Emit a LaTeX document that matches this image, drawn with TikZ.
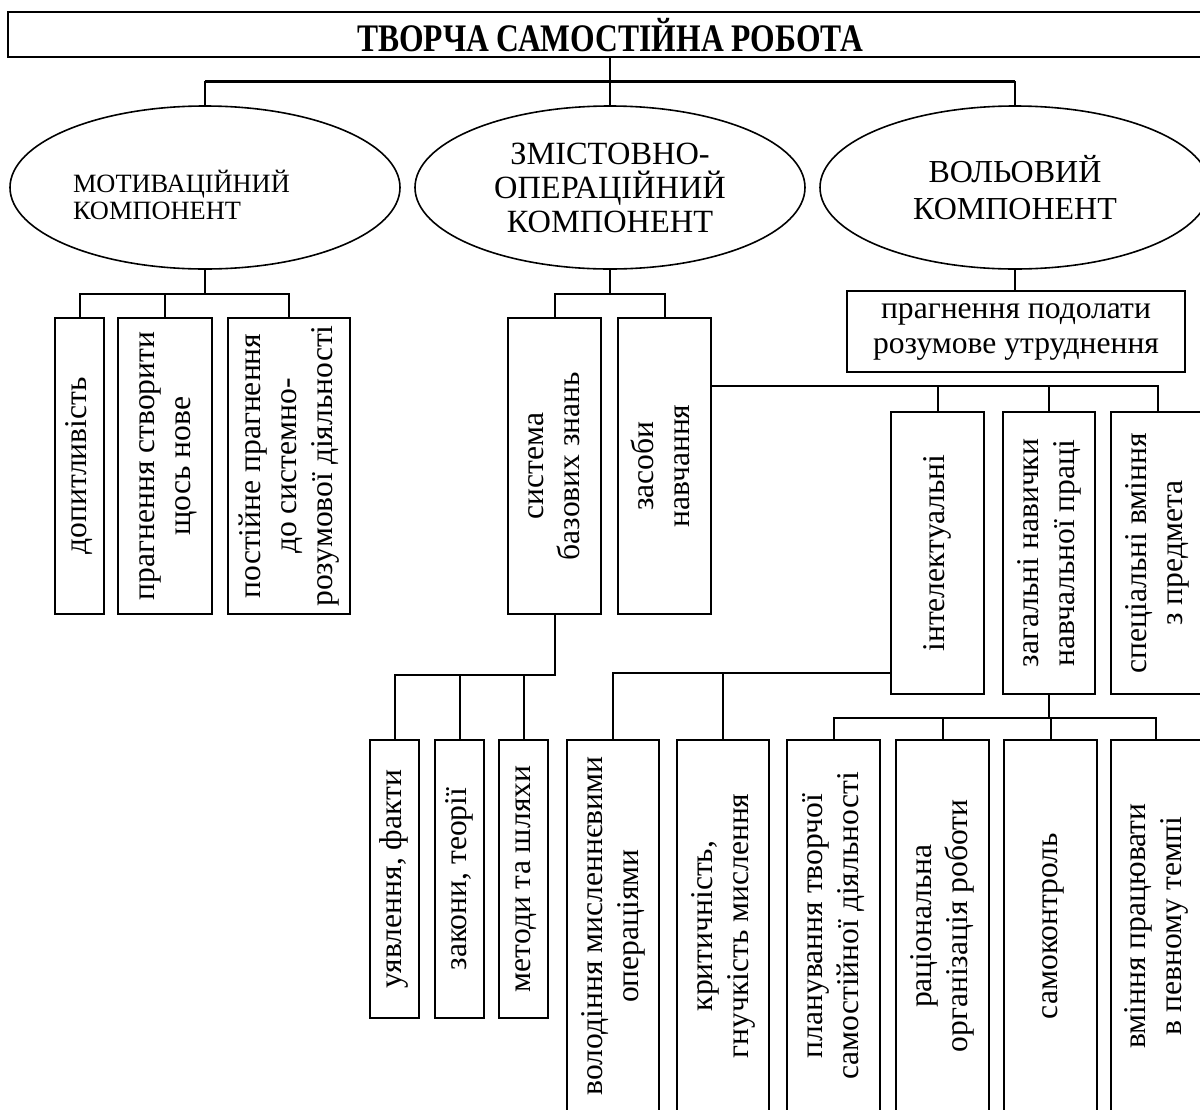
\documentclass[tikz,border=0pt]{standalone}
\usepackage{fontspec}
\usepackage{graphicx}
\setmainfont{Liberation Serif}
\usetikzlibrary{shapes.geometric}
\newcommand\vlab[1]{\rotatebox{90}{\begin{tabular}{@{}c@{}}#1\end{tabular}}}
\begin{document}
\begin{tikzpicture}[x=0.5pt,y=-0.5pt,line width=1pt,
  bx/.style={draw,inner sep=0pt,font=\fontsize{15.8}{18}\selectfont},
  ell/.style={ellipse,draw,line width=0.8pt,minimum width=195pt,minimum height=81.5pt,inner sep=0pt},
  conn/.style={line width=1pt}]
\useasboundingbox (0,0) rectangle (1200,1109);
\clip (0,0) rectangle (1200,1109);
% title
\node[draw,inner sep=0pt,minimum width=602pt,minimum height=22.5pt] (title) at (610,34.5) {};
\node[anchor=base,inner sep=0pt] (tt) at (610,51.5) {\scalebox{0.81}[1]{\fontsize{19.5}{22}\selectfont\bfseries ТВОРЧА САМОСТІЙНА РОБОТА}};
% ellipses
\node[ell] (e1) at (205,187.5) {};
\node[anchor=west,align=left,inner sep=0pt,font=\fontsize{13.2}{13.8}\selectfont] (t1) at (72,195) {МОТИВАЦІЙНИЙ\\КОМПОНЕНТ};
\node[ell,align=center,font=\fontsize{16.2}{17}\selectfont] (e2) at (610,187.5) {ЗМІСТОВНО-\\ОПЕРАЦІЙНИЙ\\КОМПОНЕНТ};
\node[ell,align=center,font=\fontsize{16}{18.5}\selectfont] (e3) at (1015,187.5) {ВОЛЬОВИЙ\\КОМПОНЕНТ};
% left boxes
\node[bx,minimum width=24.5pt,minimum height=148pt] (b1) at (79.5,466) {\vlab{допитливість}};
\node[bx,minimum width=47pt,minimum height=148pt] (b2) at (165,466) {\vlab{прагнення створити\\щось нове}};
\node[bx,minimum width=61pt,minimum height=148pt] (b3) at (289,466) {\vlab{постійне прагнення\\до системно-\\розумової діяльності}};
% middle boxes
\node[bx,minimum width=46.5pt,minimum height=148pt] (b4) at (554.5,466) {\vlab{система\\базових знань}};
\node[bx,minimum width=46.5pt,minimum height=148pt] (b5) at (664.5,466) {\vlab{засоби\\навчання}};
% volitional box
\node[bx,align=center,minimum width=169pt,minimum height=40.5pt,font=\fontsize{15.8}{17.5}\selectfont] (b6) at (1016,331.5) {прагнення подолати\\розумове утруднення};
% right boxes
\node[bx,minimum width=46.5pt,minimum height=141pt] (b7) at (937.5,553) {\vlab{інтелектуальні}};
\node[bx,minimum width=46pt,minimum height=141pt] (b8) at (1049,553) {\vlab{загальні навички\\навчальної праці}};
\node[bx,minimum width=46.5pt,minimum height=141pt] (b9) at (1157.5,553) {\vlab{спеціальні вміння\\з предмета}};
% bottom left boxes
\node[bx,minimum width=24.5pt,minimum height=139pt] (b10) at (394.5,879) {\vlab{уявлення, факти}};
\node[bx,minimum width=24.5pt,minimum height=139pt] (b11) at (459.5,879) {\vlab{закони, теорії}};
\node[bx,minimum width=24.5pt,minimum height=139pt] (b12) at (523.5,879) {\vlab{методи та шляхи}};
% bottom right boxes
\node[bx,minimum width=46pt,minimum height=186pt] (b13) at (613,926) {\vlab{володіння мисленнєвими\\операціями}};
\node[bx,minimum width=46pt,minimum height=186pt] (b14) at (723,926) {\vlab{критичність,\\гнучкість мислення}};
\node[bx,minimum width=46.5pt,minimum height=186pt] (b15) at (833.5,926) {\vlab{планування творчої\\самостійної діяльності}};
\node[bx,minimum width=46.5pt,minimum height=186pt] (b16) at (942.5,926) {\vlab{раціональна\\організація роботи}};
\node[bx,minimum width=46.5pt,minimum height=186pt] (b17) at (1050.5,926) {\vlab{самоконтроль}};
\node[bx,minimum width=45pt,minimum height=186pt] (b18) at (1156,926) {\vlab{вміння працювати\\в певному темпі}};
% connectors
\draw[line width=1.5pt] (title.south) ++(0,23) coordinate (jt) (e1.north |- jt) -- (e3.north |- jt);
\draw[conn] (title.south) -- (e2.north);
\draw[conn] (jt -| e1.north) -- (e1.north);
\draw[conn] (jt -| e3.north) -- (e3.north);
\draw[conn] (e1.south) -- ++(0,24) -| (b1.north);
\draw[conn] (e1.south) ++(0,24) -| (b2.north);
\draw[conn] (e1.south) ++(0,24) -| (b3.north);
\draw[conn] (e2.south) -- ++(0,24) -| (b4.north);
\draw[conn] (e2.south) ++(0,24) -| (b5.north);
\draw[conn] (e3.south) -- (e3.south |- b6.north);
\coordinate (j5) at ([yshift=-34.5pt]b5.north east);
\draw[conn] (j5) -| (b7.north);
\draw[conn] (j5) -| (b8.north);
\draw[conn] (j5) -| (b9.north);
\draw[conn] (b4.south) -- ++(0,60) -| (b10.north);
\draw[conn] (b4.south) ++(0,60) -| (b11.north);
\draw[conn] (b4.south) ++(0,60) -| (b12.north);
\coordinate (j7) at ([yshift=11pt]b7.south west);
\draw[conn] (j7) -| (b13.north);
\draw[conn] (j7) -| (b14.north);
\draw[conn] (b8.south) -- ++(0,23) -| (b15.north);
\draw[conn] (b8.south) ++(0,23) -| (b16.north);
\draw[conn] (b8.south) ++(0,23) -| (b17.north);
\draw[conn] (b8.south) ++(0,23) -| (b18.north);
\end{tikzpicture}
\end{document}
